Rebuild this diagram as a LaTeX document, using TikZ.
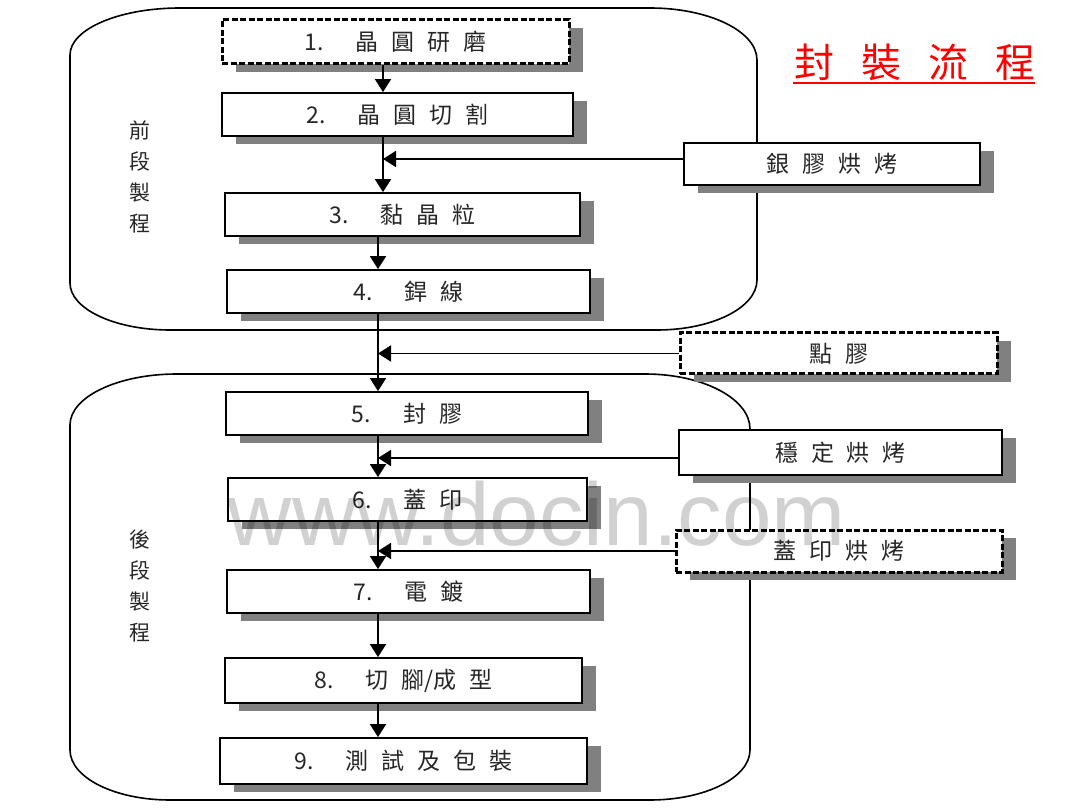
\documentclass[tikz,border=0pt]{standalone}
\usepackage{fontspec}
\newfontfamily\cjk{Noto Sans CJK TC}
\newfontfamily\wmfont{Liberation Sans}
\usetikzlibrary{arrows.meta,shadows}
\newcommand{\gp}{\hspace{13pt}}
\begin{document}
\begin{tikzpicture}[x=1pt,y=-1pt,
  region/.style={draw=black, line width=1.6pt},
  box/.style={draw=black, fill=white, line width=1.8pt, inner sep=0pt, text=black!85,
    font=\fontsize{23}{23}\selectfont\cjk,
    drop shadow={shadow xshift=14pt, shadow yshift=-8pt, fill=black!50, opacity=1}},
  dbox/.style={box, line width=3pt, dash pattern=on 6pt off 2.5pt},
  arr/.style={draw=black, line width=1.8pt, -{Triangle[width=16pt,length=13pt]}},
  lab/.style={font=\fontsize{21}{31}\selectfont\cjk, text=black!85, align=center, inner sep=0pt}]
\useasboundingbox (0,0) rectangle (1080,810);
\fill[white] (0,0) rectangle (1080,810);

% regions
\draw[region] (180,8) -- (650,8) arc[start angle=-90,end angle=0,x radius=107,y radius=52]
  -- (757,280) arc[start angle=0,end angle=90,x radius=100,y radius=50]
  -- (170,330) arc[start angle=90,end angle=180,x radius=100,y radius=47]
  -- (70,55) arc[start angle=180,end angle=270,x radius=110,y radius=47] -- cycle;
\draw[region] (177,374) -- (645,374) arc[start angle=-90,end angle=0,x radius=105,y radius=55]
  -- (750,750) arc[start angle=0,end angle=90,x radius=100,y radius=50]
  -- (170,800) arc[start angle=90,end angle=180,x radius=100,y radius=50]
  -- (70,425) arc[start angle=180,end angle=270,x radius=107,y radius=51] -- cycle;

% side labels
\node[lab] (front) at (140,177) {前\\段\\製\\程};
\node[lab] (back) at (140,586) {後\\段\\製\\程};

% title
\node[text=red, inner sep=0pt, font=\fontsize{40}{40}\selectfont\cjk] (title) at (915,62)
  {封\hspace{27pt}裝\hspace{27pt}流\hspace{27pt}程};
\draw[red, line width=2pt] (793,83) -- (1035,83);

% spine coordinates
\coordinate (sp1) at (383,0);
\coordinate (sp2) at (378,0);

% main boxes
\node[dbox, minimum width=347pt, minimum height=44pt] (b1) at (395.5,42) {1.\hspace{32pt}晶\gp 圓\gp 研\gp 磨};
\node[box, minimum width=351pt, minimum height=43pt] (b2) at (397.5,114.5) {2.\hspace{32pt}晶\gp 圓\gp 切\gp 割};
\node[box, minimum width=355pt, minimum height=43pt] (b3) at (402.5,214.5) {3.\hspace{32pt}黏\gp 晶\gp 粒};
\node[box, minimum width=363pt, minimum height=43pt] (b4) at (408.5,291.5) {4.\hspace{32pt}銲\gp 線};
\node[box, minimum width=362pt, minimum height=43pt] (b5) at (407,413.5) {5.\hspace{32pt}封\gp 膠};
\node[box, minimum width=359pt, minimum height=43pt] (b6) at (407.5,499.5) {6.\hspace{32pt}蓋\gp 印};
\node[box, minimum width=363pt, minimum height=43pt] (b7) at (408.5,591.5) {7.\hspace{32pt}電\gp 鍍};
\node[box, minimum width=357pt, minimum height=45pt] (b8) at (403.5,680.5) {8.\hspace{32pt}切\gp 腳/成\gp 型};
\node[box, minimum width=367pt, minimum height=46pt] (b9) at (403.5,761) {9.\hspace{32pt}測\gp 試\gp 及\gp 包\gp 裝};

% side boxes
\node[box, minimum width=296pt, minimum height=42pt] (s1) at (832,164) {銀\gp 膠\gp 烘\gp 烤};
\node[dbox, minimum width=317pt, minimum height=41pt] (s2) at (838.5,353.5) {點\gp 膠};
\node[box, minimum width=323pt, minimum height=45pt] (s3) at (840.5,452.5) {穩\gp 定\gp 烘\gp 烤};
\node[dbox, minimum width=326pt, minimum height=42pt] (s4) at (839,551) {蓋\gp 印\gp 烘\gp 烤};

% main flow
\draw[arr] (b1.south -| sp1) -- (b2.north -| sp1);
\draw[arr] (b2.south -| sp1) -- (b3.north -| sp1);
\draw[arr] (b3.south -| sp2) -- (b4.north -| sp2);
\draw[arr] (b4.south -| sp2) -- (b5.north -| sp2);
\draw[arr] (b5.south -| sp2) -- (b6.north -| sp2);
\draw[arr] (b6.south -| sp2) -- (b7.north -| sp2);
\draw[arr] (b7.south -| sp2) -- (b8.north -| sp2);
\draw[arr] (b8.south -| sp2) -- (b9.north -| sp2);

% side inputs
\draw[arr] ([yshift=5pt]s1.west) -- ([yshift=5pt]s1.west -| sp1);
\draw[arr] (s2.west) -- (s2.west -| sp2);
\draw[arr] ([yshift=-5.5pt]s3.west) -- ([yshift=-5.5pt]s3.west -| sp2);
\draw[arr] (s4.west) -- (s4.west -| sp2);

% watermark
\node[anchor=base, inner sep=0pt, text=black, text opacity=0.18,
  font=\fontsize{89}{89}\selectfont\wmfont] (wm) at (537,545) {www.docin.com};
\end{tikzpicture}
\end{document}
